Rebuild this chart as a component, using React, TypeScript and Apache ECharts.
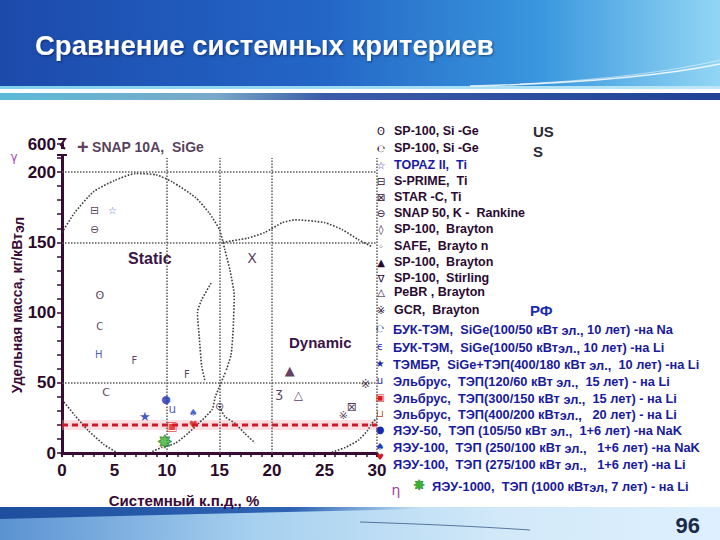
import React, { useEffect, useRef } from "react";
import * as echarts from "echarts";

// ---------- axes ----------
const xMin = 0, xMax = 30, xStep = 5;
const yMin = 0, yMax = 220, yStep = 10, yLabelStep = 50;
const yBreakTickLabel = "600";
const gridLinesX = [10, 15, 20, 30];
const gridLinesTop = 210;
const gridLinesY = [50, 150, 200];
const referenceLevel = 20;

// ---------- off-scale point (600 кг/кВт) ----------
const snapX = [2.1];
const snapY = [218];
const snapName = "SNAP 10A,  SiGe";

// ---------- US systems (efficiency %, specific mass kg/kWe) ----------
const usX = [3.1, 4.8, 3.1, 3.6, 15.0, 3.6, 3.5, 6.9, 11.9, 4.2, 18.1, 21.7, 20.7, 22.5, 28.9, 27.6, 26.8];
const usY = [173, 173, 159, 112, 33, 90, 70, 66, 56, 43, 139, 59, 43, 41, 49, 33, 27];

// ---------- Russian systems ----------
const rfX = [7.9, 9.9, 10.5, 10.5, 12.5, 12.5, 9.8];
const rfY = [26, 38, 31, 19, 28.5, 20.5, 8.5];

// ---------- region boundaries (dotted) ----------
const staticDome = [[0, 157], [1.2, 171], [3, 186], [5, 194], [7, 199], [9, 198], [10.5, 193], [12.7, 182], [14, 171], [15, 159], [15.5, 145], [16, 130], [16.4, 112], [16.3, 88], [16.1, 70], [15.6, 58]];
const staticLower = [[0, 38], [1.2, 27], [2.5, 16], [4, 6], [5.2, 0.5]];
const staticRight = [[8.6, 1], [9.5, 4], [10.8, 7], [12, 14], [13, 21], [14.3, 31], [14.6, 40], [15.6, 58]];
const midBranch = [[14.2, 121], [13.3, 109], [12.9, 100], [13.1, 80], [13.3, 62], [13.6, 52]];
const dynamicLower = [[15, 33], [15.5, 26], [16.5, 21], [17.4, 14], [18.4, 7]];
const dynamicUpper = [[15.3, 150], [17.7, 153], [19.3, 157], [21, 164], [22.2, 166], [25, 164], [26.7, 159], [28.2, 152], [29.5, 147]];
const dynamicRight = [[25.7, 0.5], [27, 4], [28.2, 9], [29.1, 16], [29.5, 21], [30, 25]];

// ---------- legend texts ----------
const usLegend = [
  "SP-100, Si -Ge",
  "SP-100, Si -Ge",
  "TOPAZ II,  Ti",
  "S-PRIME,  Ti",
  "STAR -C, Ti",
  "SNAP 50, K -  Rankine",
  "SP-100,  Brayton",
  "SAFE,  Brayto n",
  "SP-100,  Brayton",
  "SP-100,  Stirling",
  "PeBR , Brayton",
  "GCR,  Brayton",
];
const rfLegend = [
  "БУК-ТЭМ,  SiGe(100/50 кВт _эл.,_ 10 лет) -на Na",
  "БУК-ТЭМ,  SiGe(100/50 кВт_эл.,_ 10 лет) -на Li",
  "ТЭМБР,  SiGe+ТЭП(400/180 кВт _эл.,_  10 лет) -на Li",
  "Эльбрус,  ТЭП(120/60 кВт _эл.,_  15 лет) - на Li",
  "Эльбрус,  ТЭП(300/150 кВт _эл.,_  15 лет) - на Li",
  "Эльбрус,  ТЭП(400/200 кВт_эл.,_   20 лет) - на Li",
  "ЯЭУ-50,  ТЭП (105/50 кВт _эл.,_  1+6 лет) -на NaK",
  "ЯЭУ-100,  ТЭП (250/100 кВт _эл.,_   1+6 лет) -на NaK",
  "ЯЭУ-100,  ТЭП (275/100 кВт _эл.,_   1+6 лет) -на Li",
];
const megaLegend = "ЯЭУ-1000,  ТЭП (1000 кВт_эл_, 7 лет) - на Li";
const title = "Сравнение системных критериев";
const yName = "Удельная масса, кг/кВт_эл";
const xName = "Системный к.п.д., %";
const pageNo = "96";

// ---------- styles ----------
const FONT = "'Liberation Sans', Arial, sans-serif";
const SYM = "'DejaVu Sans', sans-serif";
const AX = "#3a0a36";
const DARK = "#2a0a30";
const BLUE = "#1a1a9c";
const usGlyphs = ["⊟", "☆", "⊖", "ʘ", "⊝", "C", "H", "F", "F", "C", "X", "▲", "ʒ", "△", "※", "⊠", "※"];
const usColors = [DARK, "#2020a8", DARK, DARK, DARK, DARK, "#2030a8", DARK, DARK, DARK, DARK, "#3a0a3a", DARK, DARK, DARK, DARK, DARK];
const usSizes = [11, 10, 11, 11, 11, 10, 10, 10, 10, 11, 14, 13, 13, 12, 12, 12, 11];
const rfGlyphs = ["★", "●", "u", "▣", "♠", "♥", "✸"];
const rfColors = ["#1a2ab0", "#1a2ab0", "#1a2ab0", "#e01818", "#1a40c8", "#d81818", "#38b030"];
const rfSizes = [13, 11, 12, 12, 10, 10, 18];
const usLegendGlyphs = ["ʘ", "℮", "☆", "⊟", "⊠", "⊖", "◊", "◦", "▲", "∇", "△", "※"];
const usLegendColors = [DARK, DARK, "#2020a8", DARK, DARK, DARK, DARK, DARK, DARK, DARK, DARK, DARK];
const usLegendTextColors = [DARK, DARK, "#1a1aa8", DARK, DARK, DARK, DARK, DARK, DARK, DARK, DARK, DARK];
const rfLegendGlyphs = ["℮", "ϵ", "★", "u", "▣", "⊔", "●", "♠", "♥"];
const rfLegendColors = ["#1a2ab0", "#1a2ab0", "#1a2ab0", "#1a2ab0", "#e01818", "#c04a10", "#1a2ab0", "#1a40c8", "#d81818"];
const usLegendY = [131, 148, 165, 181, 197, 213, 229, 246, 262, 278, 292, 310];
const rfLegendY = [328, 346, 363, 380, 397, 413, 429, 446, 463];
const rfLegendGlyphY = [328, 346, 363, 380, 397, 413, 429, 446, 457];

function rich(s: string) {
  return s.split("_").map((p, i) => (i % 2 ? `{s|${p}}` : `{t|${p}}`)).join("");
}
function richStyles(color: string, size: number, drop: number) {
  return {
    t: { fontSize: size, fontWeight: "bold", fontFamily: FONT, fill: color, lineHeight: size + 2, verticalAlign: "top" },
    s: { fontSize: size, fontWeight: "bold", fontFamily: FONT, fill: color, lineHeight: size + 2, verticalAlign: "bottom", padding: [drop, 0, 0, 0] },
  };
}

export default function App() {
  const ref = useRef<HTMLDivElement>(null);
  useEffect(() => {
    const chart = echarts.init(ref.current!, null, { renderer: "svg" });

    const curve = (d: number[][]) => ({
      type: "line",
      data: d,
      smooth: 0.2,
      showSymbol: false,
      silent: true,
      z: 3,
      lineStyle: { type: "dotted", color: "#3c3c3c", width: 1.6 },
    });

    const graphic: any[] = [];
    // header
    graphic.push({
      type: "rect", silent: true, z: 0,
      shape: { x: 0, y: 0, width: 720, height: 87 },
      style: { fill: { type: "linear", x: 0, y: 0, x2: 1, y2: 0, colorStops: [
        { offset: 0, color: "#1c4aab" }, { offset: 0.45, color: "#2366c6" },
        { offset: 0.75, color: "#3a97de" }, { offset: 1, color: "#92d6f4" }] } },
    });
    graphic.push({
      type: "bezierCurve", silent: true, z: 1,
      shape: { x1: 470, y1: 86, cpx1: 560, cpy1: 84, cpx2: 650, cpy2: 78, x2: 720, y2: 64 },
      style: { stroke: "rgba(255,255,255,0.85)", lineWidth: 1.5, fill: null },
    });
    graphic.push({
      type: "bezierCurve", silent: true, z: 1,
      shape: { x1: 520, y1: 84, cpx1: 600, cpy1: 80, cpx2: 670, cpy2: 72, x2: 720, y2: 60 },
      style: { stroke: "rgba(255,255,255,0.5)", lineWidth: 1, fill: null },
    });
    graphic.push({
      type: "rect", silent: true, z: 0, shape: { x: 0, y: 86, width: 720, height: 3 },
      style: { fill: { type: "linear", x: 0, y: 0, x2: 1, y2: 0, colorStops: [
        { offset: 0, color: "#7fd2ec" }, { offset: 1, color: "#bfe6f6" }] } },
    });
    graphic.push({
      type: "rect", silent: true, z: 0, shape: { x: 0, y: 93, width: 720, height: 7 },
      style: { fill: { type: "linear", x: 0, y: 0, x2: 1, y2: 0, colorStops: [
        { offset: 0, color: "#5cbad6" }, { offset: 0.3, color: "#7aa8c8" },
        { offset: 0.45, color: "#3a5ca8" }, { offset: 1, color: "#1f4296" }] } },
    });
    graphic.push({
      type: "text", silent: true, z: 2, x: 35, y: 45,
      style: { text: title, fill: "#ffffff", fontSize: 27.5, fontWeight: "bold", fontFamily: FONT,
        verticalAlign: "middle", textShadowColor: "rgba(0,0,40,0.5)", textShadowBlur: 2, textShadowOffsetX: 1, textShadowOffsetY: 1 },
    });
    // footer
    graphic.push({
      type: "rect", silent: true, z: 0, shape: { x: 0, y: 507, width: 720, height: 33 },
      style: { fill: { type: "linear", x: 0, y: 0, x2: 1, y2: 0, colorStops: [
        { offset: 0, color: "#5a92d2" }, { offset: 0.35, color: "#a6d0ef" },
        { offset: 0.7, color: "#d2e9f9" }, { offset: 1, color: "#def0ff" }] } },
    });
    graphic.push({
      type: "polygon", silent: true, z: 1,
      shape: { points: [[0, 507], [420, 507], [420, 509], [200, 514], [0, 519]] },
      style: { fill: { type: "linear", x: 0, y: 0, x2: 1, y2: 0, colorStops: [
        { offset: 0, color: "#1f4e9e" }, { offset: 0.7, color: "#2e64b4" }, { offset: 1, color: "rgba(60,110,190,0)" }] } },
    });
    graphic.push({
      type: "bezierCurve", silent: true, z: 1,
      shape: { x1: 360, y1: 522, cpx1: 420, cpy1: 524, cpx2: 470, cpy2: 526, x2: 530, y2: 530 },
      style: { stroke: "rgba(40,70,120,0.7)", lineWidth: 1, fill: null },
    });
    graphic.push({
      type: "text", silent: true, z: 2, x: 700, y: 525,
      style: { text: pageNo, fill: "#1a2a48", fontSize: 22, fontWeight: "bold", fontFamily: FONT, align: "right", verticalAlign: "middle" },
    });
    // axis break mark
    graphic.push({ type: "rect", silent: true, z: 20, shape: { x: 58, y: 149, width: 9, height: 5 }, style: { fill: "#ffffff" } });
    graphic.push({
      type: "polyline", silent: true, z: 21,
      shape: { points: [[58, 139], [65, 139], [61, 145], [65, 149]] },
      style: { stroke: AX, lineWidth: 2, fill: null },
    });
    graphic.push({ type: "line", silent: true, z: 21, shape: { x1: 57, y1: 155, x2: 67, y2: 155 }, style: { stroke: AX, lineWidth: 2 } });
    // axis names
    graphic.push({
      type: "text", silent: true, z: 5, x: 18, y: 305, rotation: Math.PI / 2,
      style: { text: rich(yName), rich: richStyles(AX, 14, 5), align: "center", verticalAlign: "middle" },
    });
    graphic.push({
      type: "text", silent: true, z: 5, x: 184, y: 500,
      style: { text: xName, fill: AX, fontSize: 15, fontWeight: "bold", fontFamily: FONT, align: "center", verticalAlign: "middle" },
    });
    // region labels
    graphic.push({ type: "text", silent: true, z: 5, x: 128, y: 258,
      style: { text: "Static", fill: "#3a1446", fontSize: 16, fontWeight: "bold", fontFamily: FONT, verticalAlign: "middle" } });
    graphic.push({ type: "text", silent: true, z: 5, x: 289, y: 342,
      style: { text: "Dynamic", fill: "#3a1446", fontSize: 15, fontWeight: "bold", fontFamily: FONT, verticalAlign: "middle" } });
    graphic.push({ type: "text", silent: true, z: 5, x: 14, y: 157,
      style: { text: "γ", fill: "#b04ab0", fontSize: 12, fontFamily: SYM, align: "center", verticalAlign: "middle" } });
    graphic.push({ type: "text", silent: true, z: 5, x: 396, y: 490,
      style: { text: "η", fill: "#a040a0", fontSize: 14, fontFamily: SYM, align: "center", verticalAlign: "middle" } });
    // legend: US
    graphic.push({ type: "text", silent: true, z: 5, x: 533, y: 131,
      style: { text: "US", fill: "#2a2a36", fontSize: 15, fontWeight: "bold", fontFamily: FONT, verticalAlign: "middle" } });
    graphic.push({ type: "text", silent: true, z: 5, x: 533, y: 151,
      style: { text: "S", fill: "#2a2a36", fontSize: 15, fontWeight: "bold", fontFamily: FONT, verticalAlign: "middle" } });
    usLegend.forEach((s, i) => {
      graphic.push({ type: "text", silent: true, z: 5, x: 381, y: usLegendY[i],
        style: { text: usLegendGlyphs[i], fill: usLegendColors[i], fontSize: 10, fontFamily: SYM, align: "center", verticalAlign: "middle" } });
      graphic.push({ type: "text", silent: true, z: 5, x: 394, y: usLegendY[i],
        style: { text: s, fill: usLegendTextColors[i], fontSize: 12.5, fontWeight: "bold", fontFamily: FONT, verticalAlign: "middle" } });
    });
    // legend: RF
    graphic.push({ type: "text", silent: true, z: 5, x: 530, y: 310,
      style: { text: "РФ", fill: "#1a2ab8", fontSize: 15, fontWeight: "bold", fontFamily: FONT, verticalAlign: "middle" } });
    rfLegend.forEach((s, i) => {
      graphic.push({ type: "text", silent: true, z: 5, x: 380, y: rfLegendGlyphY[i],
        style: { text: rfLegendGlyphs[i], fill: rfLegendColors[i], fontSize: i === rfLegend.length - 1 ? 9 : 10, fontFamily: SYM, align: "center", verticalAlign: "middle" } });
      graphic.push({ type: "text", silent: true, z: 5, x: 393, y: rfLegendY[i] + 2,
        style: { text: rich(s), rich: richStyles(BLUE, 12.8, 5), verticalAlign: "middle" } });
    });
    graphic.push({ type: "text", silent: true, z: 5, x: 419, y: 485,
      style: { text: "✸", fill: "#38b030", fontSize: 14, fontFamily: SYM, align: "center", verticalAlign: "middle",
        stroke: "#1a5a1a", lineWidth: 0.6 } });
    graphic.push({ type: "text", silent: true, z: 5, x: 432, y: 487,
      style: { text: rich(megaLegend), rich: richStyles(BLUE, 12.8, 4), verticalAlign: "middle" } });

    const option: any = {
      animation: false,
      backgroundColor: "#ffffff",
      grid: { left: 62, right: 343, top: 144, bottom: 87, containLabel: false },
      xAxis: {
        type: "value", min: xMin, max: xMax, interval: xStep,
        axisLine: { onZero: false, lineStyle: { color: AX, width: 3 } },
        axisTick: { length: 4, lineStyle: { color: AX, width: 2 } },
        minorTick: { show: true, splitNumber: 5, length: 4, lineStyle: { color: AX, width: 1.5 } },
        splitLine: { show: false },
        axisLabel: { color: "#2a0a28", fontSize: 17, fontWeight: "bold", fontFamily: FONT, margin: 9 },
      },
      yAxis: {
        type: "value", min: yMin, max: yMax, interval: yStep,
        axisLine: { show: true, onZero: false, lineStyle: { color: AX, width: 3 } },
        axisTick: { show: true, length: 5, lineStyle: { color: AX, width: 1.5 } },
        splitLine: { show: false },
        axisLabel: {
          color: "#2a0a28", fontSize: 17, fontWeight: "bold", fontFamily: FONT, margin: 6,
          formatter: (v: number) => (v === yMax ? yBreakTickLabel : v % yLabelStep === 0 ? String(v) : ""),
        },
      },
      graphic,
      series: [
        {
          type: "line",
          data: [[xMin, referenceLevel], [xMax, referenceLevel]],
          showSymbol: false, silent: true, z: 1,
          lineStyle: { color: "rgba(255,160,170,0.35)", width: 10 },
          markLine: {
            silent: true, symbol: ["none", "none"], label: { show: false },
            lineStyle: { type: "dotted", color: "#5a5a5a", width: 1.5 },
            data: [
              ...gridLinesX.map((x) => [{ coord: [x, 0] }, { coord: [x, gridLinesTop] }]),
              ...gridLinesY.map((y) => [{ coord: [xMin, y] }, { coord: [xMax, y] }]),
            ],
          },
        },
        {
          type: "line",
          data: [[xMin, referenceLevel], [xMax, referenceLevel]],
          showSymbol: false, silent: true, z: 4,
          lineStyle: { color: "#cc1a2c", width: 3, type: [6, 4] },
        },
        curve(staticDome),
        curve(staticLower),
        curve(staticRight),
        curve(midBranch),
        curve(dynamicLower),
        curve(dynamicUpper),
        curve(dynamicRight),
        {
          type: "scatter", symbolSize: 1, z: 6,
          itemStyle: { color: "rgba(0,0,0,0)" },
          label: { show: true, position: "inside", fontFamily: SYM },
          data: usX.map((x, i) => ({
            value: [x, usY[i]],
            label: { formatter: usGlyphs[i], color: usColors[i], fontSize: usSizes[i] },
          })),
        },
        {
          type: "scatter", symbolSize: 1, z: 7,
          itemStyle: { color: "rgba(0,0,0,0)" },
          label: { show: true, position: "inside", fontFamily: SYM },
          data: rfX.map((x, i) => ({
            value: [x, rfY[i]],
            label: {
              formatter: rfGlyphs[i], color: rfColors[i], fontSize: rfSizes[i],
              textBorderColor: i === 6 ? "#1a5a1a" : "transparent", textBorderWidth: i === 6 ? 1 : 0,
            },
          })),
        },
        {
          type: "scatter", symbolSize: 1, z: 7,
          itemStyle: { color: "rgba(0,0,0,0)" },
          data: snapX.map((x, i) => ({ value: [x, snapY[i]] })),
          label: {
            show: true, position: "inside", align: "left", offset: [-7, 0],
            formatter: `{p|+} {n|${snapName}}`,
            rich: {
              p: { fontSize: 20, fontWeight: "bold", color: AX, fontFamily: FONT },
              n: { fontSize: 14, fontWeight: "bold", color: DARK, fontFamily: FONT },
            },
          },
        },
      ],
    };
    chart.setOption(option);
    return () => chart.dispose();
  }, []);
  return (
    <div
      ref={ref}
      style={{ position: "fixed", left: 0, top: 0, width: 720, height: 540, background: "#fff" }}
    />
  );
}
